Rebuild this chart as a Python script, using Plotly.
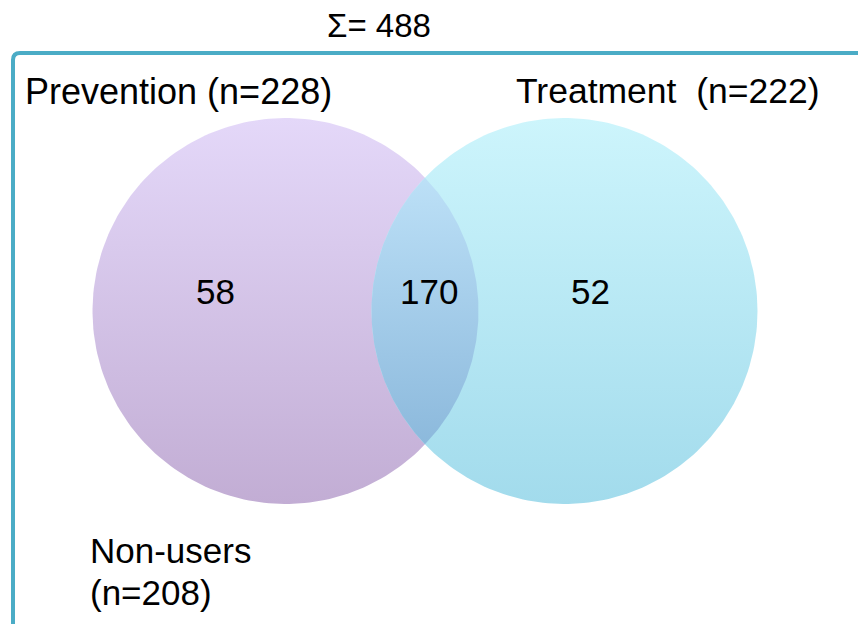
import numpy as np
import plotly.graph_objects as go

# ---- data ----
set_names = ["Prevention", "Treatment"]
region_names = ["Prevention only", "Both", "Treatment only"]
region_counts = [58, 170, 52]
outside_name = "Non-users"
outside_count = 208

prev_n = region_counts[0] + region_counts[1]
treat_n = region_counts[1] + region_counts[2]
total_n = sum(region_counts) + outside_count

# ---- layout geometry (pixel-like coordinates, y measured upward) ----
W, H = 858, 624
R = 193
C1 = (285.5, H - 311)
C2 = (564.5, H - 311)

FONT = "Liberation Sans, Arial, sans-serif"


def circle(cx, cy, r, n=240):
    t = np.linspace(0, 2 * np.pi, n)
    return cx + r * np.cos(t), cy + r * np.sin(t)


def lens(c1, c2, r, n=120):
    d = c2[0] - c1[0]
    a = np.arccos((d / 2) / r)
    t1 = np.linspace(-a, a, n)
    x1 = c1[0] + r * np.cos(t1)
    y1 = c1[1] + r * np.sin(t1)
    t2 = np.linspace(np.pi - a, np.pi + a, n)
    x2 = c2[0] + r * np.cos(t2)
    y2 = c2[1] + r * np.sin(t2)
    return np.concatenate([x1, x2]), np.concatenate([y1, y2])


fig = go.Figure()

x, y = circle(*C1, R)
fig.add_trace(go.Scatter(
    x=x, y=y, mode="lines", fill="toself", line=dict(width=0, color="rgba(0,0,0,0)"),
    fillgradient=dict(type="vertical", colorscale=[[0, "#C2ADD4"], [1, "#E4D8F9"]]),
    hoverinfo="skip", showlegend=False))

x, y = circle(*C2, R)
fig.add_trace(go.Scatter(
    x=x, y=y, mode="lines", fill="toself", line=dict(width=0, color="rgba(0,0,0,0)"),
    fillgradient=dict(type="vertical", colorscale=[[0, "#A2DBEC"], [1, "#CDF5FC"]]),
    hoverinfo="skip", showlegend=False))

x, y = lens(C1, C2, R)
fig.add_trace(go.Scatter(
    x=x, y=y, mode="lines", fill="toself", line=dict(width=0, color="rgba(0,0,0,0)"),
    fillgradient=dict(type="vertical", colorscale=[[0, "#8CB9DC"], [1, "#BCE0F7"]]),
    hoverinfo="skip", showlegend=False))

# frame
fig.add_shape(type="path",
              path=f"M 13,-20 L 13,{H-60} Q 13,{H-53} 20,{H-53} L {W+20},{H-53}",
              line=dict(color="#4BACC6", width=4), xref="x", yref="y")

ann = []
ann.append(dict(x=379, y=H - 25, text=f"Σ= {total_n}", font=dict(size=33)))
ann.append(dict(x=23, y=H - 91, text=f"{set_names[0]} (n={prev_n})", xanchor="left", font=dict(size=36)))
ann.append(dict(x=514, y=H - 91, text=f"{set_names[1]} \u00a0(n={treat_n})", xanchor="left", font=dict(size=35.5)))
ann.append(dict(x=215, y=H - 291, text=str(region_counts[0]), font=dict(size=35)))
ann.append(dict(x=429, y=H - 291, text=str(region_counts[1]), font=dict(size=35)))
ann.append(dict(x=590, y=H - 291, text=str(region_counts[2]), font=dict(size=35)))
ann.append(dict(x=88, y=H - 550, text=f"{outside_name}", xanchor="left", font=dict(size=35)))
ann.append(dict(x=88, y=H - 592, text=f"(n={outside_count})", xanchor="left", font=dict(size=35)))
for a in ann:
    a.update(xref="x", yref="y", showarrow=False)
    a["font"].update(family=FONT, color="#000000")
    a.setdefault("xanchor", "center")
    a["yanchor"] = "middle"

fig.update_layout(
    width=W, height=H, margin=dict(l=0, r=0, t=0, b=0),
    paper_bgcolor="white", plot_bgcolor="white",
    xaxis=dict(range=[0, W], visible=False, fixedrange=True),
    yaxis=dict(range=[0, H], visible=False, fixedrange=True),
    annotations=ann, showlegend=False,
)

fig.write_html("out.html", config={"displayModeBar": False},
               post_script="document.body.style.margin='0';")
